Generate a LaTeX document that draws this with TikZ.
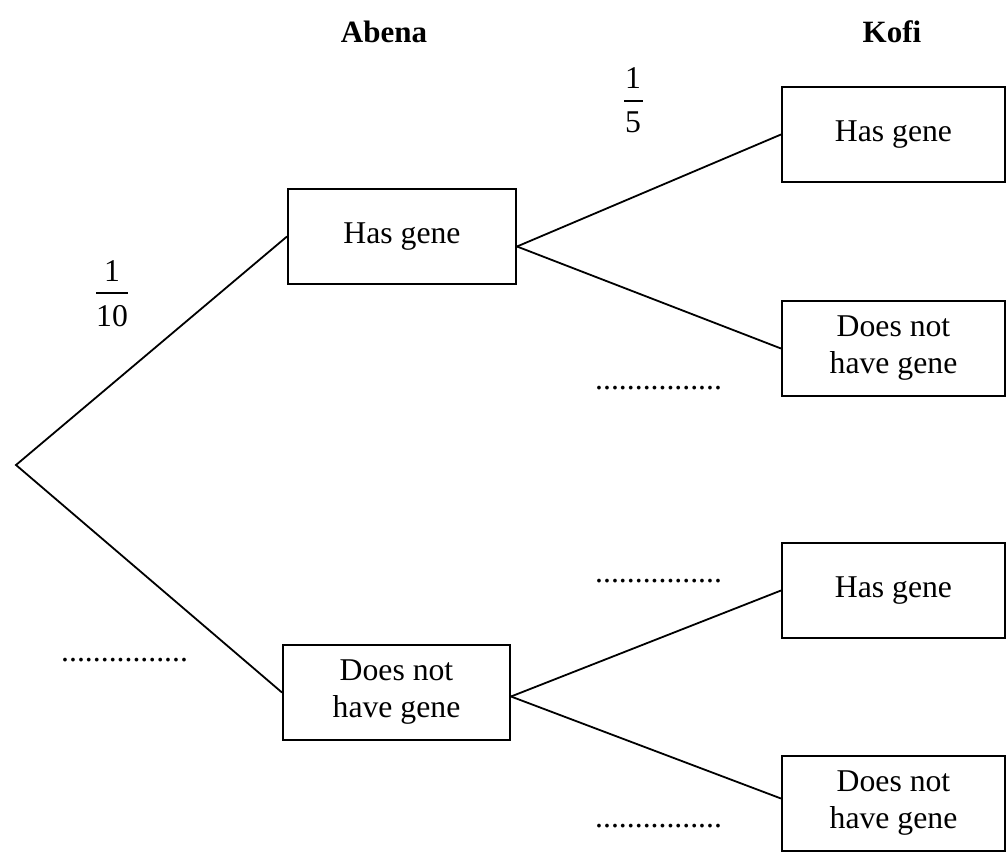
\documentclass[tikz,border=0pt]{standalone}
\usepackage{fontspec}
\setmainfont{Liberation Serif}
\begin{document}
\begin{tikzpicture}[x=1pt,y=-1pt,
  every node/.style={font=\fontsize{31.7}{37}\selectfont, inner sep=0pt},
  gbox/.style={draw, line width=2pt, rectangle, minimum height=95pt, align=center},
  abox/.style={gbox, minimum width=227pt},
  kbox/.style={gbox, minimum width=223pt},
  branch/.style={line width=1.8pt},
  hdr/.style={font=\fontsize{31}{37}\selectfont\bfseries, anchor=base},
  dots/.style={anchor=base west},
  fracbar/.style={line width=1.5pt}]
\useasboundingbox (0,0) rectangle (1006,853);
% headers
\node[hdr] (habena) at (384,43) {Abena};
\node[hdr] (hkofi) at (892,43) {Kofi};
% root
\coordinate (root) at (16,465);
% Abena boxes
\node[abox, minimum width=228pt] (ah) at (402,236.5) {Has gene};
\node[abox] (an) at (396.5,692.5) {Does not\\have gene};
% Kofi boxes
\node[kbox] (k1) at (893.5,134.5) {Has gene};
\node[kbox] (k2) at (893.5,348.5) {Does not\\have gene};
\node[kbox] (k3) at (893.5,590.5) {Has gene};
\node[kbox] (k4) at (893.5,803.5) {Does not\\have gene};
% branches
\draw[branch, line join=miter] (ah.west) -- (root) -- (an.west);
\draw[branch] ([yshift=-10pt]ah.east) -- (k1.west);
\draw[branch] ([yshift=-10pt]ah.east) -- (k2.west);
\draw[branch] ([yshift=-4pt]an.east) -- (k3.west);
\draw[branch] ([yshift=-4pt]an.east) -- ([yshift=5pt]k4.west);
% fraction 1/10
\node[anchor=base] (p10n) at (112,281) {1};
\node[anchor=base] (p10d) at (112,326) {10};
\draw[fracbar] (96,293) -- (128,293);
% fraction 1/5
\node[anchor=base] (p5n) at (633,89) {1};
\node[anchor=base] (p5d) at (633,133) {5};
\draw[fracbar] (624,101) -- (643,101);
% dotted answer spaces
\node[dots] (d0) at (61,661) {................};
\node[dots] (d1) at (595,389) {................};
\node[dots] (d2) at (595,582) {................};
\node[dots] (d3) at (595,827) {................};
\end{tikzpicture}
\end{document}
